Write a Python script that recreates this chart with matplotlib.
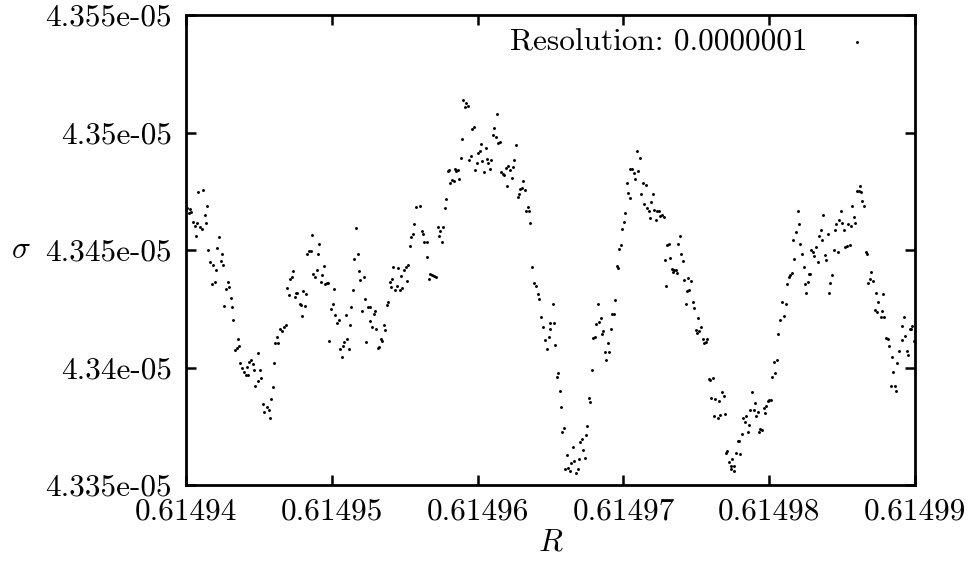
import matplotlib
matplotlib.use('Agg')
from matplotlib import pyplot as plt
from matplotlib.ticker import FixedLocator

plt.rcParams['font.family'] = ['cmr10', 'DejaVu Serif']
plt.rcParams['mathtext.fontset'] = 'cm'
plt.rcParams['axes.formatter.use_mathtext'] = True

# R = 0.61494 + r_step * 1e-7, sigma in units of 1e-5
r_start = 0.61494
r_res = 0.0000001
r_step = [
    0.7, 1.7, 2.7, 3.4, 4.6, 6.0, 6.7, 7.3, 8.4, 9.6,
    10.8, 11.5, 12.8, 13.5, 14.6, 15.3, 16.7, 17.6, 18.7, 19.7,
    20.6, 21.5, 22.4, 23.8, 24.5, 25.4, 26.3, 27.6, 28.6, 29.7,
    30.7, 31.6, 32.4, 33.6, 35.0, 35.7, 36.6, 37.2, 38.6, 39.6,
    40.9, 41.6, 42.7, 43.4, 44.4, 46.0, 46.4, 47.3, 49.2, 49.6,
    50.6, 51.4, 52.6, 53.7, 55.4, 56.7, 57.4, 58.3, 59.7, 60.6,
    61.0, 62.4, 63.3, 64.5, 65.8, 67.2, 68.6, 69.3, 70.9, 71.3,
    72.5, 73.6, 74.6, 75.4, 76.3, 78.0, 78.9, 79.6, 80.5, 81.6,
    82.5, 83.2, 84.4, 85.5, 86.6, 87.3, 88.7, 89.6, 90.3, 91.2,
    92.6, 93.5, 94.4, 95.3, 96.5, 97.4, 98.3, 99.7, 100.6, 101.3,
    102.2, 103.8, 104.7, 105.4, 106.8, 107.5, 108.6, 109.5, 110.6, 111.8,
    112.3, 113.4, 114.5, 115.4, 116.6, 118.0, 118.7, 119.5, 120.5, 121.9,
    122.8, 123.3, 124.8, 126.0, 126.4, 127.4, 128.9, 129.6, 130.3, 131.5,
    132.6, 133.5, 134.4, 135.6, 136.7, 137.7, 138.6, 139.9, 140.4, 141.3,
    142.2, 143.6, 144.7, 145.2, 146.6, 147.7, 148.4, 149.3, 150.7, 151.4,
    152.3, 153.6, 154.5, 155.5, 156.4, 157.8, 160.3, 161.7, 162.8, 163.4,
    165.1, 165.5, 166.7, 167.1, 168.5, 170.1, 171.5, 172.6, 173.7, 174.2,
    175.6, 176.5, 177.4, 178.1, 179.5, 180.4, 181.3, 182.7, 183.8, 184.3,
    185.2, 186.6, 187.5, 188.4, 189.1, 190.2, 191.4, 192.1, 193.6, 194.3,
    195.3, 196.2, 197.5, 198.4, 199.4, 200.3, 201.5, 202.3, 203.2, 204.6,
    205.6, 206.5, 207.1, 208.5, 209.4, 210.4, 211.5, 212.4, 213.3, 214.2,
    215.6, 216.3, 217.4, 218.1, 219.5, 220.4, 221.1, 222.2, 223.4, 224.3,
    225.2, 226.6, 227.5, 228.2, 229.1, 230.5, 231.4, 232.3, 233.4, 234.4,
    235.3, 236.2, 237.6, 238.5, 240.1, 241.4, 242.3, 243.5, 244.9, 246.3,
    247.6, 249.0, 249.5, 249.9, 251.5, 252.4, 253.3, 254.3, 255.4, 256.3,
    257.2, 258.1, 259.5, 260.2, 261.1, 262.2, 263.4, 264.3, 265.3, 266.2,
    267.4, 268.5, 269.6, 270.5, 271.6, 272.1, 273.5, 274.4, 275.3, 276.2,
    277.3, 278.3, 279.2, 280.7, 281.4, 282.6, 283.1, 284.4, 285.3, 286.2,
    287.2, 288.3, 289.2, 290.1, 291.5, 292.4, 293.3, 294.0, 295.4, 296.5,
    297.2, 298.4, 299.3, 300.2, 301.1, 302.5, 303.4, 304.4, 304.8, 306.2,
    307.3, 308.2, 309.6, 310.3, 311.2, 312.1, 313.5, 314.4, 315.3, 316.0,
    317.4, 318.3, 319.2, 320.5, 321.2, 322.2, 322.8, 324.2, 325.3, 326.5,
    327.7, 328.3, 329.2, 330.1, 331.5, 332.2, 333.2, 334.1, 334.8, 335.7,
    336.7, 337.4, 338.5, 339.6, 340.5, 341.2, 342.6, 343.3, 344.2, 345.1,
    346.5, 347.4, 348.3, 349.7, 350.5, 351.2, 352.1, 353.5, 354.4, 355.5,
    356.5, 357.4, 358.5, 359.4, 360.3, 361.3, 362.2, 363.1, 364.5, 365.5,
    366.4, 367.6, 368.7, 369.4, 370.1, 371.0, 372.6, 373.5, 374.0, 374.7,
    375.6, 376.1, 377.0, 378.4, 379.5, 380.0, 381.1, 382.2, 383.4, 384.3,
    385.4, 386.4, 387.0, 388.0, 389.4, 390.4, 391.1, 392.1, 393.2, 393.7,
    395.1, 396.5, 397.4, 398.1, 399.0, 400.1, 401.3, 402.2, 403.4, 404.2,
    405.2, 406.1, 407.5, 408.4, 410.2, 411.4, 412.3, 413.2, 414.4, 415.3,
    416.2, 417.1, 418.5, 419.4, 420.1, 420.8, 422.5, 423.6, 424.5, 425.4,
    426.3, 427.1, 428.0, 428.9, 430.3, 431.0, 432.3, 433.3, 434.4, 435.3,
    436.2, 437.1, 438.1, 439.0, 440.4, 441.2, 441.9, 443.3, 444.3, 445.1,
    446.0, 447.4, 447.9, 449.1, 450.2, 451.3, 452.2, 453.2, 454.3, 455.4,
    456.1, 457.0, 458.2, 459.1, 460.0, 461.4, 462.3, 463.0, 463.9, 465.1,
    466.2, 467.1, 468.0, 469.4, 470.1, 471.0, 472.4, 473.3, 473.8, 474.9,
    476.5, 477.2, 478.1, 479.0, 480.2, 481.1, 482.0, 483.4, 484.3, 485.2,
    485.9, 487.2, 487.9, 489.3, 490.7, 491.2, 492.1, 493.1, 494.4, 495.3,
    496.2, 497.1, 498.2, 499.0,
]
sigma = [
    4.34679, 4.34658, 4.34675, 4.34662, 4.34620, 4.34603, 4.34561, 4.34616, 4.34748, 4.34599,
    4.34589, 4.34755, 4.34650, 4.34616, 4.34689, 4.34501, 4.34448, 4.34357, 4.34438, 4.34365,
    4.34415, 4.34510, 4.34557, 4.34455, 4.34484, 4.34436, 4.34263, 4.34335, 4.34365, 4.34344,
    4.34297, 4.34259, 4.34202, 4.34075, 4.34084, 4.34121, 4.34093, 4.34018, 4.33999, 4.33981,
    4.33970, 4.34004, 4.33970, 4.34024, 4.34032, 4.34016, 4.33990, 4.33921, 4.33943, 4.34063,
    4.33988, 4.33955, 4.33843, 4.33812, 4.33832, 4.33819, 4.33785, 4.33866, 4.33917, 4.34021,
    4.34104, 4.34131, 4.34104, 4.34164, 4.34157, 4.34171, 4.34181, 4.34340, 4.34309, 4.34378,
    4.34387, 4.34412, 4.34299, 4.34317, 4.34317, 4.34270, 4.34267, 4.34221, 4.34327, 4.34263,
    4.34313, 4.34483, 4.34496, 4.34496, 4.34565, 4.34399, 4.34384, 4.34416, 4.34484, 4.34527,
    4.34363, 4.34395, 4.34433, 4.34355, 4.34360, 4.34361, 4.34114, 4.34249, 4.34270, 4.34335,
    4.34225, 4.34189, 4.34204, 4.34079, 4.34046, 4.34093, 4.34109, 4.34225, 4.34123, 4.34079,
    4.34181, 4.34259, 4.34331, 4.34462, 4.34595, 4.34484, 4.34412, 4.34372, 4.34242, 4.34385,
    4.34293, 4.34110, 4.34259, 4.34259, 4.34199, 4.34174, 4.34228, 4.34242, 4.34165, 4.34084,
    4.34089, 4.34123, 4.34113, 4.34181, 4.34161, 4.34267, 4.34280, 4.34364, 4.34341, 4.34378,
    4.34428, 4.34331, 4.34347, 4.34424, 4.34331, 4.34389, 4.34338, 4.34415, 4.34426, 4.34369,
    4.34436, 4.34518, 4.34554, 4.34568, 4.34611, 4.34684, 4.34689, 4.34582, 4.34568, 4.34535,
    4.34534, 4.34470, 4.34377, 4.34398, 4.34392, 4.34389, 4.34387, 4.34596, 4.34561, 4.34581,
    4.34535, 4.34599, 4.34680, 4.34718, 4.34838, 4.34840, 4.34786, 4.34797, 4.34795, 4.34846,
    4.34836, 4.34840, 4.34803, 4.34893, 4.34974, 4.35137, 4.35110, 4.35127, 4.35114, 4.34883,
    4.34900, 4.35016, 4.35025, 4.34840, 4.34872, 4.34913, 4.34921, 4.34952, 4.34880, 4.34833,
    4.34935, 4.34886, 4.34872, 4.34845, 4.34884, 4.34991, 4.35020, 4.34982, 4.35080, 4.34954,
    4.34961, 4.34833, 4.34823, 4.34818, 4.34849, 4.34774, 4.34857, 4.34842, 4.34806, 4.34853,
    4.34884, 4.34948, 4.34727, 4.34740, 4.34761, 4.34765, 4.34795, 4.34755, 4.34667, 4.34683,
    4.34666, 4.34616, 4.34429, 4.34358, 4.34348, 4.34314, 4.34290, 4.34215, 4.34172, 4.34117,
    4.34079, 4.34130, 4.34191, 4.34165, 4.34272, 4.34191, 4.34097, 4.33961, 4.33978, 4.33901,
    4.33833, 4.33726, 4.33744, 4.33570, 4.33629, 4.33574, 4.33561, 4.33595, 4.33661, 4.33604,
    4.33553, 4.33567, 4.33612, 4.33684, 4.33697, 4.33650, 4.33616, 4.33714, 4.33753, 4.33872,
    4.33855, 4.33991, 4.34127, 4.34131, 4.34187, 4.34272, 4.34195, 4.34212, 4.34144, 4.34157,
    4.34067, 4.34033, 4.34106, 4.34067, 4.34165, 4.34229, 4.34229, 4.34289, 4.34433, 4.34425,
    4.34506, 4.34523, 4.34591, 4.34621, 4.34659, 4.34786, 4.34744, 4.34723, 4.34846, 4.34846,
    4.34829, 4.34803, 4.34923, 4.34838, 4.34893, 4.34740, 4.34786, 4.34697, 4.34778, 4.34680,
    4.34667, 4.34638, 4.34706, 4.34740, 4.34670, 4.34629, 4.34667, 4.34667, 4.34646, 4.34650,
    4.34641, 4.34459, 4.34348, 4.34523, 4.34527, 4.34465, 4.34421, 4.34408, 4.34415, 4.34416,
    4.34404, 4.34527, 4.34561, 4.34484, 4.34455, 4.34371, 4.34272, 4.34327, 4.34382, 4.34331,
    4.34367, 4.34280, 4.34255, 4.34160, 4.34148, 4.34212, 4.34155, 4.34174, 4.34121, 4.34104,
    4.34109, 4.34121, 4.33952, 4.33948, 4.33872, 4.33957, 4.33795, 4.33866, 4.33786, 4.33859,
    4.33798, 4.33895, 4.33880, 4.33804, 4.33638, 4.33645, 4.33598, 4.33570, 4.33581, 4.33612,
    4.33561, 4.33582, 4.33638, 4.33689, 4.33689, 4.33632, 4.33717, 4.33786, 4.33769, 4.33795,
    4.33726, 4.33755, 4.33821, 4.33897, 4.33821, 4.33850, 4.33794, 4.33812, 4.33726, 4.33740,
    4.33734, 4.33828, 4.33807, 4.33836, 4.33859, 4.33862, 4.33863, 4.33960, 4.34025, 4.33978,
    4.34032, 4.34143, 4.34202, 4.34280, 4.34219, 4.34272, 4.34355, 4.34387, 4.34395, 4.34402,
    4.34543, 4.34462, 4.34577, 4.34666, 4.34612, 4.34527, 4.34483, 4.34428, 4.34357, 4.34318,
    4.34365, 4.34399, 4.34398, 4.34500, 4.34493, 4.34475, 4.34513, 4.34449, 4.34560, 4.34585,
    4.34543, 4.34650, 4.34479, 4.34458, 4.34569, 4.34317, 4.34360, 4.34394, 4.34500, 4.34585,
    4.34612, 4.34493, 4.34628, 4.34666, 4.34616, 4.34585, 4.34513, 4.34517, 4.34612, 4.34521,
    4.34603, 4.34689, 4.34641, 4.34616, 4.34752, 4.34752, 4.34774, 4.34748, 4.34710, 4.34689,
    4.34490, 4.34482, 4.34358, 4.34375, 4.34408, 4.34369, 4.34244, 4.34318, 4.34236, 4.34280,
    4.34214, 4.34241, 4.34314, 4.34216, 4.34124, 4.34123, 4.34093, 4.33923, 4.34046, 4.33980,
    4.33923, 4.33901, 4.34021, 4.34070, 4.34117, 4.34175, 4.34214, 4.34133, 4.34072, 4.34053,
    4.34163, 4.34165, 4.34178, 4.34114,
]

x_ticks = [0.61494, 0.61495, 0.61496, 0.61497, 0.61498, 0.61499]
x_labels = ['0.61494', '0.61495', '0.61496', '0.61497', '0.61498', '0.61499']
y_ticks = [4.335e-05, 4.34e-05, 4.345e-05, 4.35e-05, 4.355e-05]
y_labels = ['4.335e-05', '4.34e-05', '4.345e-05', '4.35e-05', '4.355e-05']

R = [r_start + k * r_res for k in r_step]
S = [v * 1e-5 for v in sigma]

fig = plt.figure(figsize=(9.74, 5.71), dpi=100)
ax = fig.add_axes([0.1910, 0.1506, 0.7485, 0.8231])

ax.scatter(R, S, s=4.5, color='black', marker='o', linewidths=0,
           label='Resolution: 0.0000001')

ax.set_xlim(0.61494, 0.61499)
ax.set_ylim(4.335e-05, 4.355e-05)
ax.xaxis.set_major_locator(FixedLocator(x_ticks))
ax.yaxis.set_major_locator(FixedLocator(y_ticks))
ax.set_xticklabels(x_labels)
ax.set_yticklabels(y_labels)

ax.tick_params(direction='in', length=7, width=1.8, top=True, right=True,
               labelsize=22.5, pad=9)
ax.tick_params(axis='y', pad=10)
for sp in ax.spines.values():
    sp.set_linewidth(2)

ax.set_xlabel('$R$', fontsize=22.5, labelpad=2)
ax.set_ylabel('$\\sigma$', fontsize=22.5, rotation=0, labelpad=18, va='center')

ax.legend(loc='upper right', frameon=False, markerfirst=False, fontsize=22.5,
          markerscale=1.0, handletextpad=0.58, borderaxespad=0.47,
          bbox_to_anchor=(1.0, 1.03))

fig.savefig('out.png', dpi=100)
